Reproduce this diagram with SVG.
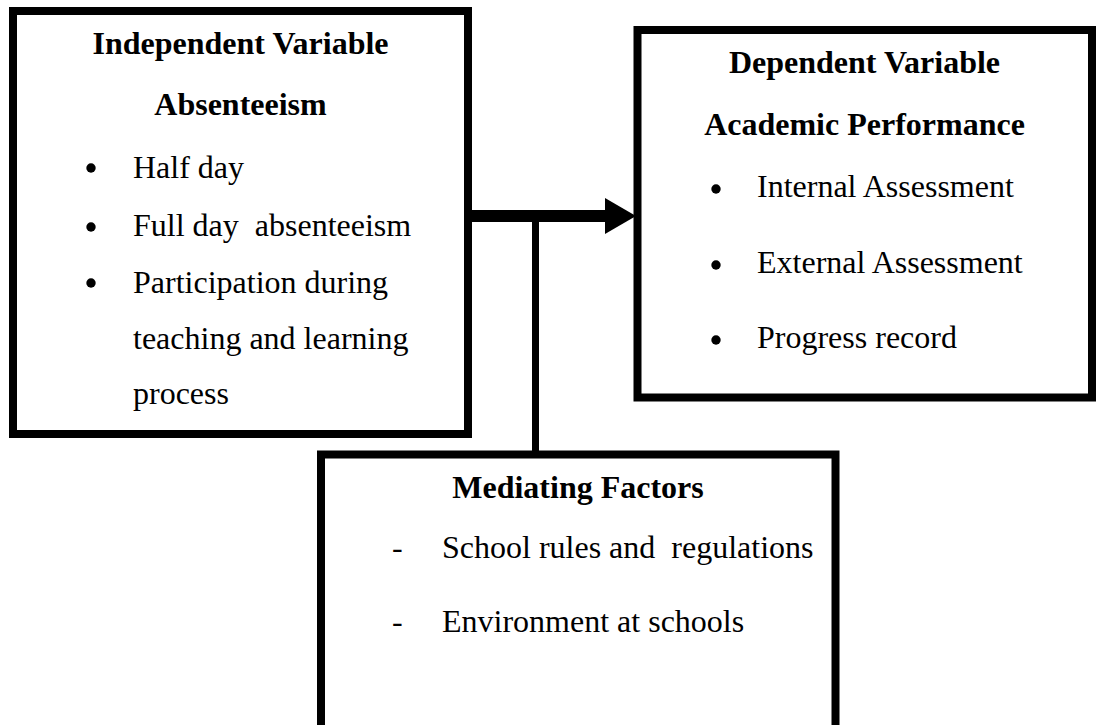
<svg xmlns="http://www.w3.org/2000/svg" width="1096" height="725" viewBox="0 0 1096 725">
  <style>
    .box { fill: #fff; stroke: #000; stroke-width: 8; }
    .t { font-family: "Liberation Serif", "Times New Roman", serif; font-size: 32px; fill: #000; white-space: pre; }
    .b { font-weight: bold; text-anchor: middle; }
    .dot { fill: #000; }
  </style>
  <rect width="1096" height="725" fill="#fff"/>
  <g id="connectors">
    <rect x="470" y="210" width="136" height="12" fill="#000"/>
    <polygon points="605,198 636,216 605,234" fill="#000"/>
    <rect x="532" y="216" width="7" height="237" fill="#000"/>
  </g>
  <g id="independent">
    <rect class="box" x="13" y="11" width="455" height="423"/>
    <text class="t b" x="240.5" y="54">Independent Variable</text>
    <text class="t b" x="240.5" y="115">Absenteeism</text>
    <circle class="dot" cx="91" cy="168" r="4.7"/>
    <circle class="dot" cx="91" cy="227" r="4.7"/>
    <circle class="dot" cx="91" cy="283" r="4.7"/>
    <text class="t" x="133" y="178">Half day</text>
    <text class="t" x="133" y="236" xml:space="preserve">Full day  absenteeism</text>
    <text class="t" x="133" y="293">Participation during</text>
    <text class="t" x="133" y="349">teaching and learning</text>
    <text class="t" x="133" y="404">process</text>
  </g>
  <g id="dependent">
    <rect class="box" x="637.5" y="30" width="454.5" height="367.5"/>
    <text class="t b" x="864.5" y="73">Dependent Variable</text>
    <text class="t b" x="864.5" y="135">Academic Performance</text>
    <circle class="dot" cx="716" cy="189" r="4.7"/>
    <circle class="dot" cx="716" cy="265" r="4.7"/>
    <circle class="dot" cx="716" cy="340" r="4.7"/>
    <text class="t" x="757" y="197">Internal Assessment</text>
    <text class="t" x="757" y="273">External Assessment</text>
    <text class="t" x="757" y="348">Progress record</text>
  </g>
  <g id="mediating">
    <rect class="box" x="321" y="454.5" width="514.5" height="290"/>
    <text class="t b" x="578" y="498">Mediating Factors</text>
    <text class="t" x="392" y="558">-</text>
    <text class="t" x="442" y="558" xml:space="preserve">School rules and  regulations</text>
    <text class="t" x="392" y="632">-</text>
    <text class="t" x="442" y="632">Environment at schools</text>
  </g>
</svg>
